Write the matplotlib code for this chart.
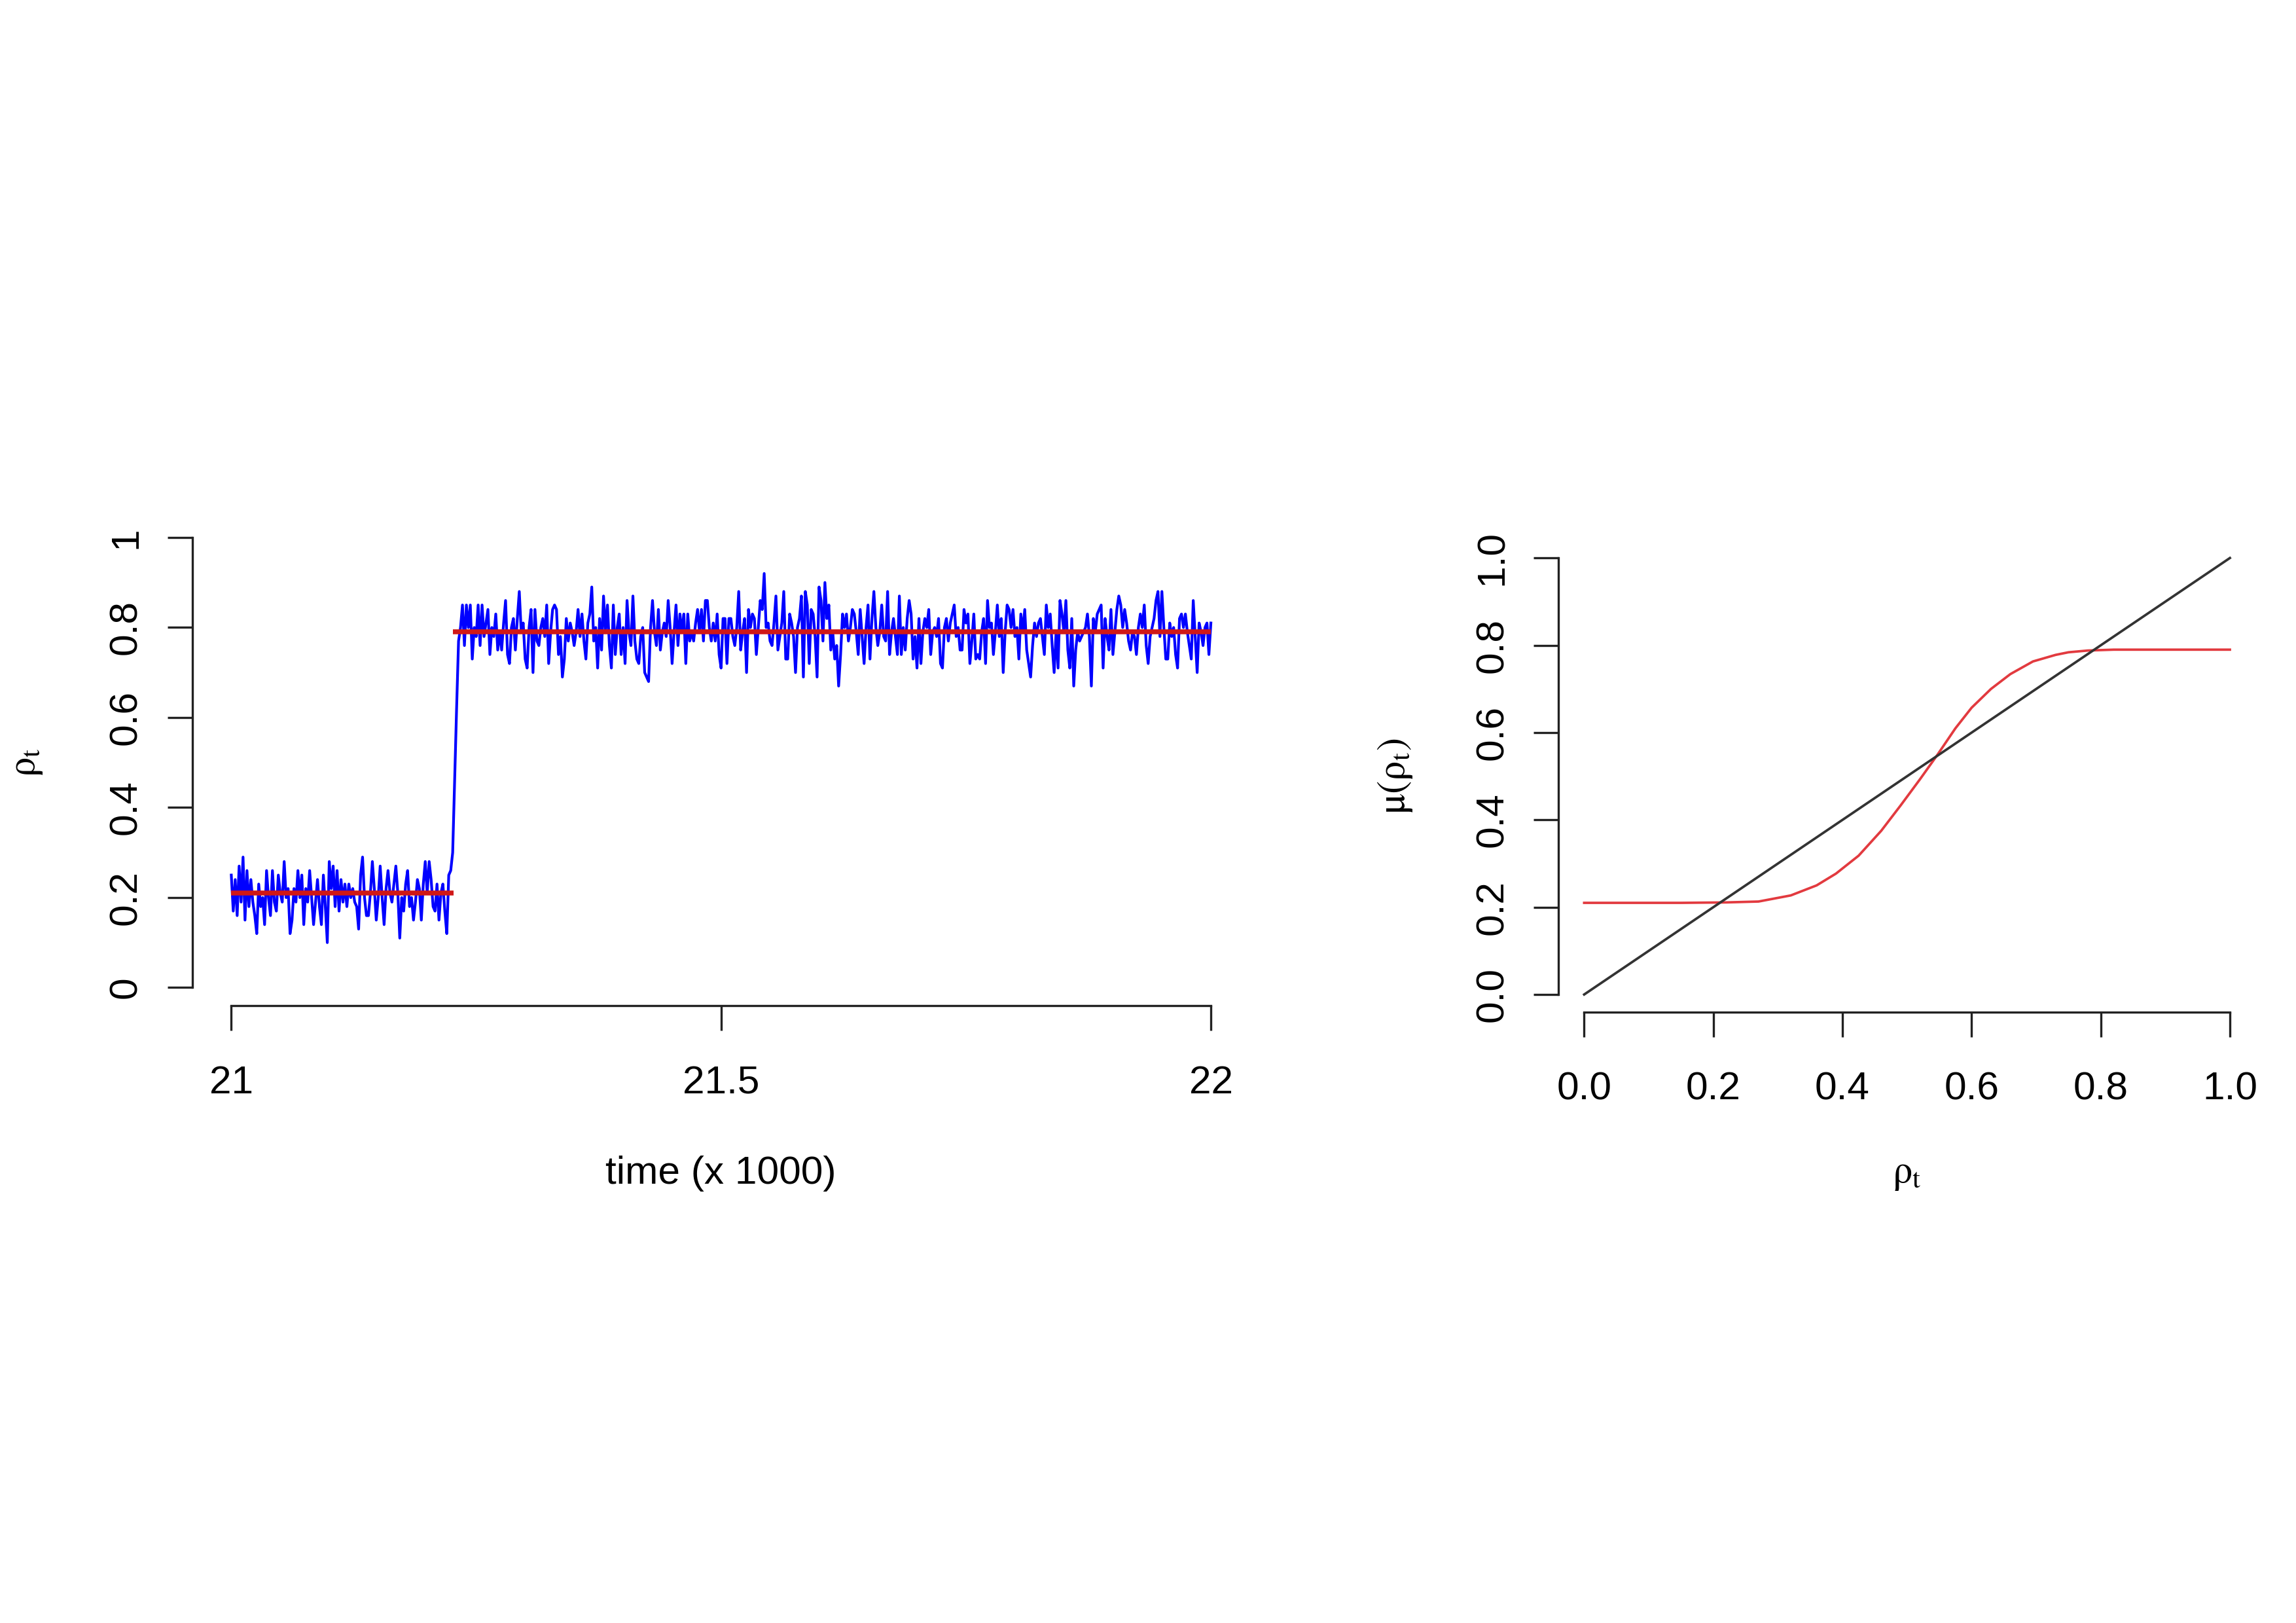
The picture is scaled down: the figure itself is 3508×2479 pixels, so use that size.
import numpy as np
import matplotlib
matplotlib.use('Agg')
import matplotlib.pyplot as plt

# --- datos ---
# serie rho_t, un valor cada 2 pasos de tiempo, de 21.000 a 22.000 (x 1000)
rho_low = [0.25, 0.17, 0.24, 0.16, 0.27, 0.19, 0.29, 0.15, 0.26, 0.18,
           0.24, 0.19, 0.16, 0.12, 0.23, 0.18, 0.20, 0.14, 0.26, 0.20,
           0.16, 0.26, 0.19, 0.17, 0.25, 0.21, 0.19, 0.28, 0.20, 0.22,
           0.12, 0.15, 0.22, 0.19, 0.26, 0.20, 0.25, 0.14, 0.22, 0.19,
           0.26, 0.20, 0.14, 0.19, 0.24, 0.18, 0.14, 0.25, 0.18, 0.10,
           0.28, 0.22, 0.27, 0.18, 0.26, 0.17, 0.24, 0.19, 0.23, 0.18,
           0.23, 0.20, 0.22, 0.19, 0.18, 0.13, 0.25, 0.29, 0.20, 0.16,
           0.16, 0.21, 0.28, 0.22, 0.15, 0.20, 0.27, 0.20, 0.14, 0.22,
           0.26, 0.21, 0.19, 0.23, 0.27, 0.21, 0.11, 0.20, 0.17, 0.23,
           0.26, 0.18, 0.20, 0.15, 0.19, 0.24, 0.22, 0.15, 0.23, 0.28,
           0.21, 0.28, 0.24, 0.18, 0.17, 0.23, 0.15, 0.21, 0.23, 0.17,
           0.12, 0.25, 0.26]
rho_jump = [0.30, 0.46, 0.62, 0.77]
rho_high_a = [0.80, 0.85, 0.76, 0.85, 0.80, 0.85, 0.73, 0.80, 0.78, 0.85,
              0.76, 0.85, 0.78, 0.81, 0.84, 0.74, 0.80, 0.78, 0.83, 0.75,
              0.79, 0.75, 0.81, 0.86, 0.74, 0.72, 0.80, 0.82, 0.75, 0.82,
              0.88, 0.79, 0.81, 0.73, 0.71, 0.80, 0.84, 0.70, 0.84, 0.77,
              0.76, 0.80, 0.82, 0.78, 0.85, 0.72, 0.79, 0.84, 0.85, 0.84,
              0.74, 0.78, 0.69, 0.73, 0.82, 0.77, 0.81, 0.79, 0.76, 0.79,
              0.84, 0.78, 0.83, 0.77, 0.73, 0.81, 0.83, 0.89, 0.77, 0.80,
              0.71, 0.82, 0.75, 0.87, 0.79, 0.85, 0.76, 0.71, 0.85, 0.74,
              0.80, 0.83, 0.74, 0.80, 0.72, 0.86, 0.79, 0.76, 0.87, 0.77,
              0.73, 0.72, 0.78, 0.80, 0.70, 0.69, 0.68, 0.80, 0.86, 0.79,
              0.76, 0.84, 0.75, 0.79, 0.81, 0.78, 0.86, 0.80, 0.72, 0.79,
              0.85, 0.76, 0.83, 0.79, 0.83, 0.72, 0.83, 0.77, 0.79, 0.77,
              0.81, 0.84, 0.79, 0.84, 0.77, 0.86]
rho_high_b = [0.86, 0.80, 0.77, 0.81, 0.77, 0.83, 0.74, 0.71, 0.82, 0.82,
              0.72, 0.82, 0.82, 0.78, 0.76, 0.80, 0.88, 0.75, 0.79, 0.82,
              0.70, 0.84, 0.80, 0.83, 0.82, 0.74, 0.80, 0.86, 0.84, 0.92,
              0.80, 0.81, 0.77, 0.76, 0.81, 0.87, 0.75, 0.78, 0.81, 0.88,
              0.73, 0.73, 0.83, 0.81, 0.78, 0.70, 0.80, 0.82, 0.87, 0.69,
              0.88, 0.85, 0.72, 0.84, 0.83, 0.78, 0.69, 0.89, 0.86, 0.77,
              0.90, 0.82, 0.85, 0.75, 0.79, 0.73, 0.76, 0.67, 0.74, 0.83,
              0.80, 0.83, 0.77, 0.80, 0.84, 0.83, 0.79, 0.74, 0.84, 0.78,
              0.72, 0.80, 0.85, 0.73, 0.82, 0.88, 0.80, 0.76, 0.79, 0.85,
              0.78, 0.77, 0.88, 0.74, 0.79, 0.82, 0.78, 0.74, 0.87, 0.74,
              0.80, 0.75, 0.82, 0.86, 0.83, 0.73, 0.78, 0.71, 0.82, 0.72,
              0.79, 0.82, 0.80, 0.84, 0.74, 0.79, 0.80, 0.78, 0.82, 0.72,
              0.71, 0.80, 0.82, 0.77, 0.81, 0.83, 0.85, 0.78, 0.80, 0.75]
rho_high_c = [0.75, 0.84, 0.81, 0.83, 0.72, 0.77, 0.83, 0.73, 0.74, 0.73,
              0.79, 0.82, 0.72, 0.86, 0.80, 0.81, 0.74, 0.79, 0.85, 0.78,
              0.82, 0.70, 0.79, 0.85, 0.84, 0.80, 0.84, 0.78, 0.80, 0.73,
              0.83, 0.79, 0.84, 0.75, 0.72, 0.69, 0.76, 0.81, 0.78, 0.81,
              0.82, 0.78, 0.74, 0.85, 0.80, 0.83, 0.76, 0.70, 0.79, 0.71,
              0.86, 0.83, 0.79, 0.86, 0.75, 0.71, 0.82, 0.67, 0.75, 0.79,
              0.77, 0.78, 0.79, 0.80, 0.83, 0.78, 0.67, 0.82, 0.79, 0.83,
              0.84, 0.85, 0.71, 0.82, 0.78, 0.75, 0.84, 0.74, 0.79, 0.84,
              0.87, 0.85, 0.80, 0.84, 0.81, 0.77, 0.75, 0.79, 0.78, 0.74,
              0.80, 0.83, 0.80, 0.85, 0.76, 0.72, 0.78, 0.80, 0.82, 0.86,
              0.88, 0.78, 0.88, 0.80, 0.73, 0.73, 0.81, 0.78, 0.80, 0.74,
              0.71, 0.82, 0.83, 0.80, 0.83, 0.79, 0.76, 0.73, 0.86, 0.78,
              0.70, 0.81, 0.79, 0.76, 0.80, 0.81, 0.74, 0.81]
t_start, t_end = 21.0, 22.0

# niveles de los dos regimenes (lineas rojas)
regime_level = [0.21, 0.79]
regime_start = [21.0, 21.226]
regime_end = [21.227, 22.0]

mu_x = [0.0, 0.15, 0.22, 0.27, 0.32, 0.36, 0.39, 0.425, 0.46, 0.49,
        0.52, 0.547, 0.575, 0.60, 0.63, 0.66, 0.695, 0.73, 0.75, 0.78,
        0.82, 1.0]
mu_y = [0.21, 0.21, 0.211, 0.213, 0.227, 0.25, 0.277, 0.318, 0.375, 0.433,
        0.493, 0.549, 0.61, 0.657, 0.70, 0.734, 0.763, 0.778, 0.784, 0.788,
        0.79, 0.79]
diag = [0.0, 1.0]

left_xticks = [21, 21.5, 22]
left_xlabels = ['21', '21.5', '22']
left_yticks = [0, 0.2, 0.4, 0.6, 0.8, 1]
left_ylabels = ['0', '0.2', '0.4', '0.6', '0.8', '1']
right_ticks = [0, 0.2, 0.4, 0.6, 0.8, 1.0]
right_labels = ['0.0', '0.2', '0.4', '0.6', '0.8', '1.0']

plt.rcParams['font.family'] = ['Liberation Sans', 'DejaVu Sans']
plt.rcParams['mathtext.fontset'] = 'stix'
FS = 14.5


def estilo_r(ax, xb, yb):
    # ejes al estilo de R: solo izquierda y abajo, limitados a los ticks
    for s in ['top', 'right']:
        ax.spines[s].set_visible(False)
    for s in ['left', 'bottom']:
        ax.spines[s].set_linewidth(0.8)
        ax.spines[s].set_color('#222222')
    ax.spines['bottom'].set_bounds(*xb)
    ax.spines['left'].set_bounds(*yb)
    ax.tick_params(direction='out', length=9.1, width=0.8, colors='#222222',
                   labelcolor='black', labelsize=FS)
    ax.tick_params(axis='x', pad=12.8)
    ax.tick_params(axis='y', pad=8.4)


fig = plt.figure(figsize=(3508 / 300, 2479 / 300), dpi=300)
ax1 = fig.add_axes([0.08367, 0.38040, 0.46078, 0.29952])
ax2 = fig.add_axes([0.67871, 0.37648, 0.30376, 0.29048])

# panel izquierdo
rho = np.array(rho_low + rho_jump + rho_high_a + rho_high_b + rho_high_c)
time = np.linspace(t_start, t_end, len(rho))
ax1.plot(time, rho, color='#0000FF', lw=1.0)
for lvl, a, b in zip(regime_level, regime_start, regime_end):
    ax1.plot([a, b], [lvl, lvl], color='#D01818', lw=1.8, solid_capstyle='butt')
ax1.set_xlim(20.96, 22.04)
ax1.set_ylim(-0.04, 1.04)
ax1.set_xticks(left_xticks, left_xlabels)
ax1.set_yticks(left_yticks, left_ylabels, rotation=90, va='center')
estilo_r(ax1, (21, 22), (0, 1))
ax1.set_xlabel('time (x 1000)', fontsize=FS)
ax1.xaxis.set_label_coords(0.5, -0.3448)
ax1.xaxis.label.set_va('center')
ax1.set_ylabel(r'$\mathrm{\rho}_{\mathrm{t}}$', fontsize=FS)
ax1.yaxis.set_label_coords(-0.1568, 0.5)
ax1.yaxis.label.set_va('center')

# panel derecho
ax2.plot(mu_x, mu_y, color='#E23A3F', lw=0.9)
ax2.plot(diag, diag, color='#333333', lw=0.9)
ax2.set_xlim(-0.04, 1.04)
ax2.set_ylim(-0.04, 1.04)
ax2.set_xticks(right_ticks, right_labels)
ax2.set_yticks(right_ticks, right_labels, rotation=90, va='center')
estilo_r(ax2, (0, 1), (0, 1))
ax2.set_xlabel(r'$\mathrm{\rho}_{\mathrm{t}}$', fontsize=FS)
ax2.xaxis.set_label_coords(0.5, -0.3448)
ax2.xaxis.label.set_va('center')
ax2.set_ylabel(r'$\mathrm{\mu}(\mathrm{\rho}_{\mathrm{t}})$', fontsize=FS)
ax2.yaxis.set_label_coords(-0.2336, 0.5)
ax2.yaxis.label.set_va('center')

fig.savefig('out.png', dpi=300)
